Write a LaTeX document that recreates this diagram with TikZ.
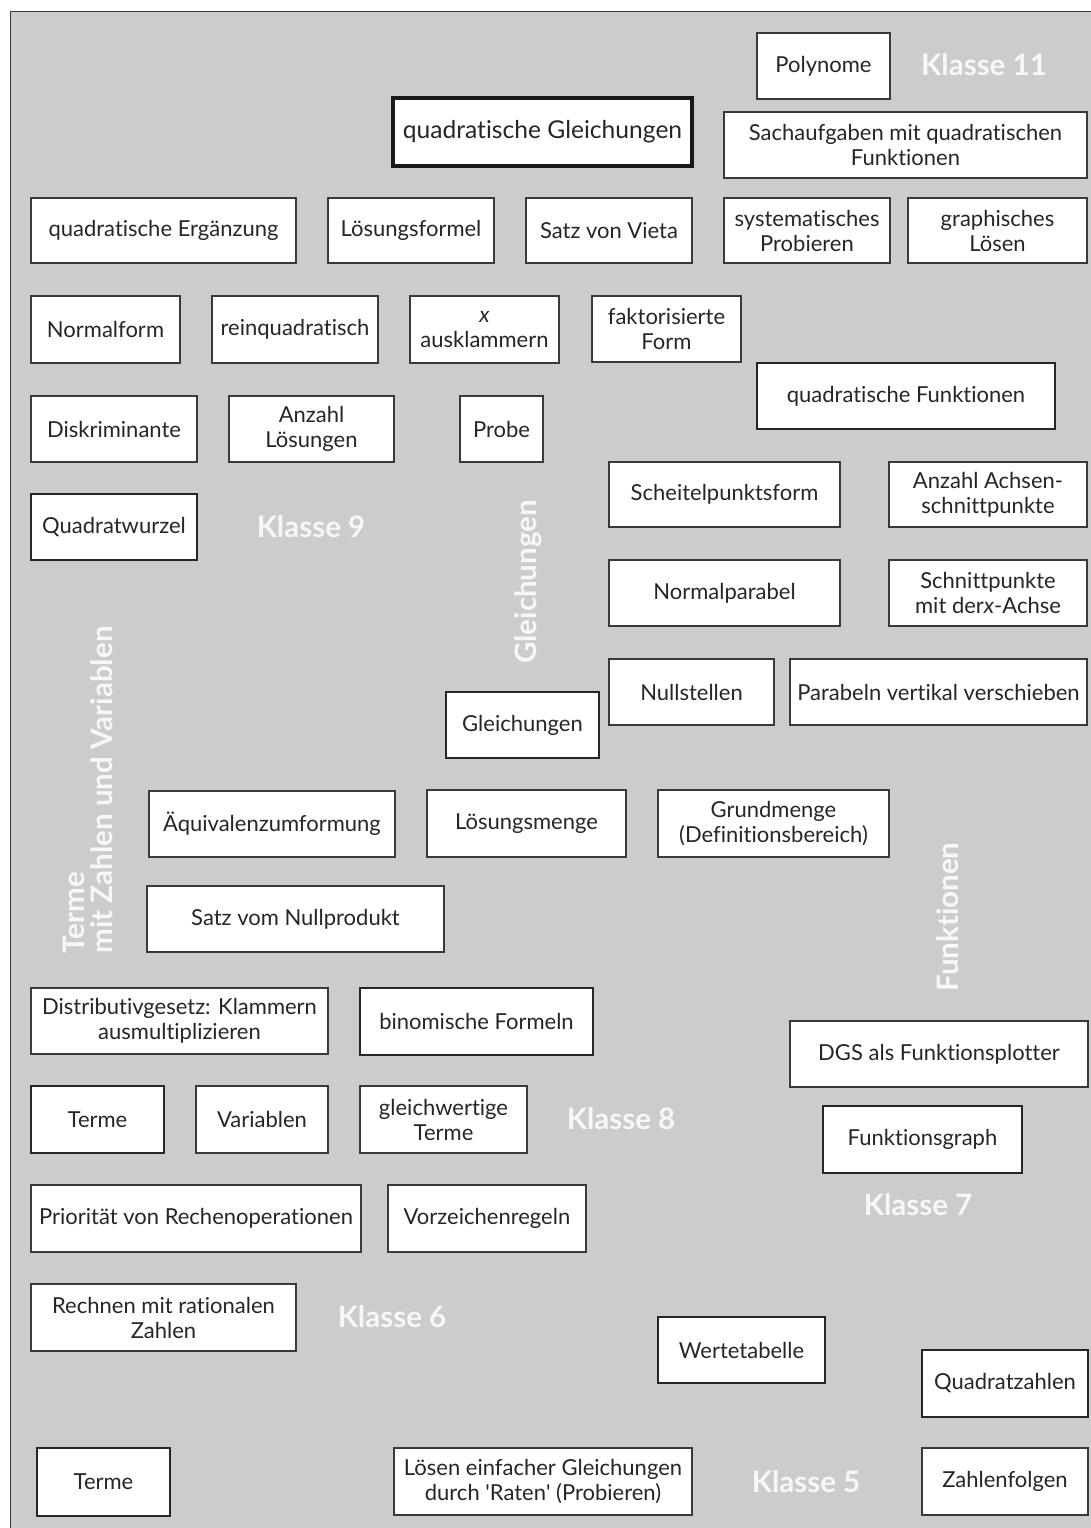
\documentclass[tikz,border=0pt]{standalone}
\usepackage{fontspec}
\setmainfont{Lato}[Ligatures={NoCommon}]
\definecolor{panelgray}{HTML}{CBCCCE}
\definecolor{edgegray}{HTML}{3A3A3A}
\definecolor{txtgray}{HTML}{262626}
\definecolor{lblwhite}{HTML}{F7F7F7}
\tikzset{
  box/.style={draw=edgegray, fill=white, line width=1.3pt, inner sep=0pt, align=center,
    text=txtgray, font=\fontsize{22}{25}\selectfont},
  heavy/.style={line width=2.6pt, draw=black!85},
  wh/.style 2 args={minimum width=#1pt, minimum height=#2pt},
  klasse/.style={text=lblwhite, font=\fontsize{29.5}{32}\selectfont\bfseries, inner sep=0pt},
  topic/.style={text=lblwhite, font=\fontsize{29.5}{28}\selectfont\bfseries, inner sep=0pt, rotate=90},
}
\begin{document}
\begin{tikzpicture}[x=1pt,y=-1pt]
\useasboundingbox (0,0) rectangle (1091,1528);
\fill[panelgray] (10,12) rectangle (1091,1528);
\draw[edgegray, line width=1pt] (10,1528) -- (10,12) -- (1091,12);

% Klasse 11
\node[box,wh={133}{66}] (poly) at (823.5,66) {Polynome};
\node[klasse] (k11) at (984,65) {Klasse 11};
\node[box,wh={299}{68},line width=4.2pt,draw=black!90,font=\fontsize{24.6}{27}\selectfont] (qgl) at (542.5,132) {quadratische Gleichungen};
\node[box,wh={363}{66}] (sach) at (905.5,145) {Sachaufgaben mit quadratischen\\Funktionen};

% row
\node[box,wh={265}{65}] (qerg) at (163.5,230.5) {quadratische Ergänzung};
\node[box,wh={166}{65}] (lform) at (411,230.5) {Lösungsformel};
\node[box,wh={166}{65}] (vieta) at (609,230.5) {Satz von Vieta};
\node[box,wh={166}{65}] (sysprob) at (807,230.5) {systematisches\\Probieren};
\node[box,wh={179}{65}] (graph) at (997.5,230.5) {graphisches\\Lösen};

% row
\node[box,wh={149}{67}] (nform) at (105.5,329.5) {Normalform};
\node[box,wh={166}{67}] (reinq) at (295,329.5) {reinquadratisch};
\node[box,wh={149}{67}] (xaus) at (484.5,329.5) {\textit{x}\\ausklammern};
\node[box,wh={149}{66}] (fakt) at (666.5,329) {faktorisierte\\Form};
\node[box,wh={298}{66},line width=2pt,draw=black!85] (qfkt) at (906,396) {quadratische Funktionen};

% row
\node[box,wh={166}{66}] (disk) at (114,429) {Diskriminante};
\node[box,wh={165}{66}] (anzl) at (311.5,429) {Anzahl\\Lösungen};
\node[box,wh={83}{66}] (probe) at (501.5,429) {Probe};

\node[box,wh={231}{65}] (sps) at (724.5,494.5) {Scheitelpunktsform};
\node[box,wh={198}{65}] (anzach) at (988,494.5) {Anzahl Achsen-\\schnittpunkte};
\node[box,heavy,wh={166}{66}] (qw) at (114,527) {Quadratwurzel};
\node[klasse] (k9) at (311,527) {Klasse 9};

\node[box,wh={231}{66}] (npar) at (724.5,593) {Normalparabel};
\node[box,wh={198}{66}] (schn) at (988,593) {Schnittpunkte\\mit der\textit{x}-Achse};

\node[topic] (tgl) at (528,582) {Gleichungen};
\node[topic, align=left] (tterme) at (88,790) {Terme\\mit Zahlen und Variablen};

\node[box,wh={165}{66}] (nst) at (691.5,692) {Nullstellen};
\node[box,wh={297}{66}] (pvv) at (938.5,692) {Parabeln vertikal verschieben};
\node[box,heavy,wh={153}{66}] (gl) at (522.5,725) {Gleichungen};

\node[box,wh={246}{66}] (aeq) at (272,824) {Äquivalenzumformung};
\node[box,wh={199}{67}] (lmenge) at (526.5,823.5) {Lösungsmenge};
\node[box,wh={231}{67}] (gmenge) at (773.5,823.5) {Grundmenge\\(Definitionsbereich)};

\node[topic] (tfkt) at (948,917) {Funktionen};
\node[box,wh={297}{66}] (snp) at (295.5,919) {Satz vom Nullprodukt};

% Klasse 8
\node[box,wh={297}{66}] (dist) at (179.5,1021) {Distributivgesetz: Klammern\\ausmultiplizieren};
\node[box,heavy,wh={233}{67}] (binom) at (476.5,1021.5) {binomische Formeln};
\node[box,wh={298}{66}] (dgs) at (939,1054) {DGS als Funktionsplotter};

\node[box,heavy,wh={133}{67}] (terme8) at (97.5,1119.5) {Terme};
\node[box,wh={132}{67}] (var) at (262,1119.5) {Variablen};
\node[box,wh={167}{67}] (glw) at (443.5,1119.5) {gleichwertige\\Terme};
\node[klasse] (k8) at (621,1119) {Klasse 8};
\node[box,heavy,wh={199}{67}] (fgraph) at (922.5,1139.5) {Funktionsgraph};

\node[box,wh={330}{67}] (prio) at (196,1218.5) {Priorität von Rechenoperationen};
\node[box,wh={198}{67}] (vz) at (487,1218.5) {Vorzeichenregeln};
\node[klasse] (k7) at (918,1205) {Klasse 7};

% Klasse 6
\node[box,wh={265}{67}] (rech) at (163.5,1317.5) {Rechnen mit rationalen\\Zahlen};
\node[klasse] (k6) at (392,1317) {Klasse 6};
\node[box,heavy,wh={167}{66}] (wt) at (741.5,1350) {Wertetabelle};
\node[box,heavy,wh={166}{67}] (qz) at (1005,1383.5) {Quadratzahlen};

% Klasse 5
\node[box,heavy,wh={133}{68}] (terme5) at (103.5,1482) {Terme};
\node[box,wh={298}{67}] (loesen) at (543,1481.5) {Lösen einfacher Gleichungen\\durch \textquotesingle Raten\textquotesingle\ (Probieren)};
\node[klasse] (k5) at (806,1482) {Klasse 5};
\node[box,wh={166}{67}] (zf) at (1005,1481.5) {Zahlenfolgen};
\end{tikzpicture}
\end{document}
